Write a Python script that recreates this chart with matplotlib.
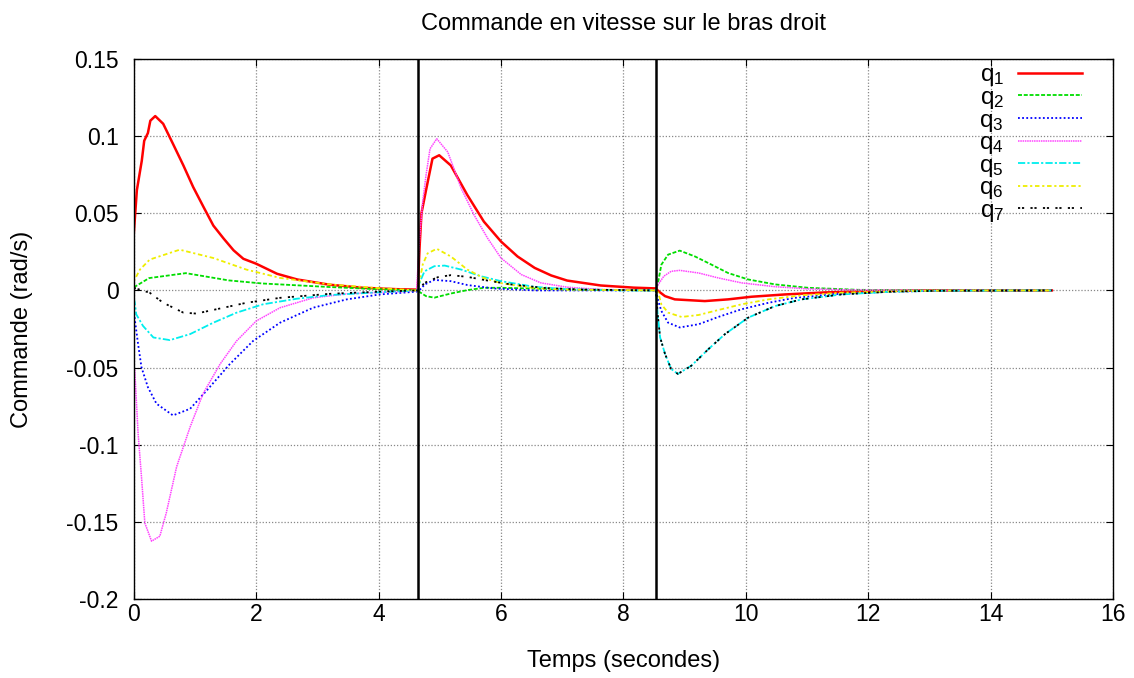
import matplotlib
matplotlib.use("Agg")
import matplotlib.pyplot as plt

plt.rcParams['font.family'] = ['Liberation Sans', 'DejaVu Sans']

# (temps, commande)
q1 = [(0, 0.037), (0.05, 0.065), (0.13, 0.084), (0.17, 0.097), (0.23, 0.102), (0.27, 0.110),
      (0.35, 0.113), (0.48, 0.108), (0.64, 0.095), (0.81, 0.081), (0.97, 0.067), (1.14, 0.054),
      (1.3, 0.042), (1.47, 0.0335), (1.63, 0.026), (1.79, 0.0205), (2.0, 0.0173), (2.34, 0.0108),
      (2.67, 0.0071), (3.2, 0.0037), (3.75, 0.0017), (4.3, 0.0008), (4.64, 0.0005),
      (4.67, 0.0285), (4.70, 0.05), (4.775, 0.065), (4.83, 0.0757), (4.88, 0.0854), (4.99, 0.0876),
      (5.18, 0.081), (5.45, 0.0618), (5.72, 0.0446), (6.0, 0.0317), (6.27, 0.022), (6.55, 0.0146),
      (6.82, 0.0097), (7.08, 0.0064), (7.63, 0.0032), (8.17, 0.0018), (8.53, 0.0013),
      (8.57, -0.0004), (8.68, -0.0037), (8.84, -0.0058), (9.33, -0.0069), (9.71, -0.0058),
      (10.09, -0.0041), (10.64, -0.0026), (11.29, -0.0013), (12.1, -0.0004), (13.0, 0.0), (15.0, 0.0)]

q2 = [(0, 0.002), (0.25, 0.008), (0.85, 0.0112), (1.55, 0.0065), (2.1, 0.0045), (3.2, 0.0022),
      (4.0, 0.0008), (4.64, 0.0),
      (4.68, -0.0013), (4.775, -0.0037), (4.91, -0.0047), (5.18, -0.002), (5.45, 0.0002),
      (5.72, 0.0017), (6.0, 0.0017), (6.55, 0.0012), (7.08, 0.0006), (8.53, 0.0),
      (8.57, 0.006), (8.62, 0.0167), (8.73, 0.0232), (8.92, 0.0258), (9.17, 0.022), (9.44, 0.0167),
      (9.71, 0.0113), (10.04, 0.0071), (10.48, 0.0039), (11.02, 0.0017), (11.83, 0.0004),
      (13.2, 0.0), (15.0, 0.0)]

q3 = [(0, -0.012), (0.016, -0.0187), (0.07, -0.0348), (0.125, -0.0498), (0.23, -0.0627),
      (0.37, -0.0734), (0.64, -0.081), (0.92, -0.0767), (1.19, -0.0649), (1.57, -0.0477),
      (1.95, -0.0327), (2.39, -0.0209), (2.93, -0.0112), (3.48, -0.0058), (4.02, -0.0026),
      (4.62, -0.0008),
      (4.68, 0.0007), (4.755, 0.0039), (4.91, 0.0068), (5.18, 0.006), (5.45, 0.0035),
      (5.88, 0.0013), (6.55, 0.0), (8.53, 0.0),
      (8.57, -0.0069), (8.62, -0.0133), (8.73, -0.0209), (8.92, -0.024), (9.23, -0.0219),
      (9.55, -0.0172), (9.93, -0.0122), (10.37, -0.008), (10.8, -0.0048), (11.45, -0.0024),
      (12.37, -0.0008), (13.5, 0.0), (15.0, 0.0)]

q4 = [(0, -0.05), (0.016, -0.052), (0.07, -0.0927), (0.125, -0.1207), (0.18, -0.1507),
      (0.29, -0.1625), (0.425, -0.1593), (0.53, -0.1443), (0.70, -0.1142), (0.92, -0.0885),
      (1.13, -0.067), (1.41, -0.0477), (1.68, -0.0327), (2.0, -0.0198), (2.39, -0.0112),
      (2.93, -0.0048), (3.48, -0.0022), (4.62, -0.0003),
      (4.67, 0.0339), (4.72, 0.0575), (4.775, 0.0747), (4.84, 0.0918), (4.95, 0.0983),
      (5.13, 0.0897), (5.35, 0.0661), (5.56, 0.0489), (5.78, 0.0339), (6.0, 0.021),
      (6.33, 0.0103), (6.65, 0.0049), (7.08, 0.0021), (7.63, 0.0006), (8.53, 0.0),
      (8.57, 0.0039), (8.66, 0.0092), (8.78, 0.0124), (8.92, 0.013), (9.23, 0.0113),
      (9.55, 0.0081), (9.93, 0.0049), (10.48, 0.0024), (11.02, 0.001), (11.83, 0.0003),
      (13.0, 0.0), (15.0, 0.0)]

q5 = [(0, -0.005), (0.016, -0.008), (0.04, -0.0155), (0.15, -0.023), (0.32, -0.0305),
      (0.59, -0.0322), (0.92, -0.0283), (1.30, -0.0209), (1.68, -0.0144), (2.11, -0.009),
      (2.66, -0.0054), (3.2, -0.003), (4.0, -0.0012), (4.64, 0.0),
      (4.68, 0.006), (4.75, 0.0124), (4.91, 0.0157), (5.08, 0.0161), (5.35, 0.0135),
      (5.67, 0.0092), (6.0, 0.006), (6.55, 0.0023), (7.08, 0.0008), (8.0, 0.0), (8.53, 0.0),
      (8.56, -0.0155), (8.6, -0.0305), (8.68, -0.0412), (8.78, -0.0509), (8.89, -0.0541),
      (9.11, -0.0488), (9.39, -0.038), (9.66, -0.0283), (10.04, -0.0176), (10.48, -0.0101),
      (10.91, -0.0058), (11.56, -0.0026), (12.37, -0.0008), (13.18, -0.0002), (15.0, 0.0)]

q6 = [(0, 0.006), (0.1, 0.0135), (0.26, 0.02), (0.75, 0.0264), (1.30, 0.021), (1.84, 0.0135),
      (2.39, 0.0081), (3.2, 0.0039), (4.0, 0.0015), (4.64, 0.0),
      (4.68, 0.008), (4.72, 0.0167), (4.8, 0.024), (4.95, 0.027), (5.18, 0.022), (5.45, 0.0135),
      (5.72, 0.008), (6.0, 0.0047), (6.55, 0.0015), (7.08, 0.0005), (8.53, 0.0),
      (8.57, -0.0015), (8.62, -0.009), (8.73, -0.0144), (8.95, -0.0172), (9.23, -0.0159),
      (9.55, -0.0127), (9.93, -0.009), (10.37, -0.0058), (10.91, -0.0032), (11.56, -0.0015),
      (12.64, -0.0004), (13.5, 0.0), (15.0, 0.0)]

q7 = [(0, 0.0017), (0.26, -0.0015), (0.48, -0.008), (0.81, -0.0144), (1.02, -0.015),
      (1.35, -0.0122), (1.84, -0.008), (2.39, -0.0048), (3.2, -0.0022), (4.0, -0.0008),
      (4.64, 0.0),
      (4.68, 0.0017), (4.75, 0.0049), (4.97, 0.0086), (5.18, 0.0099), (5.45, 0.0088),
      (5.78, 0.0064), (6.16, 0.0039), (6.71, 0.0016), (7.36, 0.0005), (8.53, 0.0),
      (8.56, -0.0155), (8.6, -0.0305), (8.68, -0.0412), (8.78, -0.0509), (8.89, -0.0541),
      (9.11, -0.0488), (9.39, -0.038), (9.66, -0.0283), (10.04, -0.0176), (10.48, -0.0101),
      (10.91, -0.0058), (11.56, -0.0026), (12.37, -0.0008), (13.18, -0.0002), (15.0, 0.0)]

switch_times = [4.64, 8.53]

series = [q1, q2, q3, q4, q5, q6, q7]
labels = ['$\\mathregular{q_1}$', '$\\mathregular{q_2}$', '$\\mathregular{q_3}$', '$\\mathregular{q_4}$',
          '$\\mathregular{q_5}$', '$\\mathregular{q_6}$', '$\\mathregular{q_7}$']
colors = ['#ff0000', '#00dd00', '#0000ff', '#ff44ff', '#00eeee', '#eeee00', '#000000']
dashes = [None, (2.2, 1.0), (1.0, 1.3), (1.0, 0.5), (4.0, 1.2, 1.2, 1.2), (1.2, 1.5, 2.5, 1.5),
          (1.2, 1.0, 1.2, 3.5)]
widths = [1.8, 1.3, 1.3, 1.1, 1.3, 1.3, 1.3]

fig = plt.figure(figsize=(11.34, 6.78), dpi=100)
ax = fig.add_axes([0.118, 0.1165, 0.8635, 0.7965])

for data, lab, c, d, w in zip(series, labels, colors, dashes, widths):
    t = [p[0] for p in data]
    v = [p[1] for p in data]
    line, = ax.plot(t, v, color=c, lw=w, label=lab)
    if d is not None:
        line.set_dashes(d)

for ts in switch_times:
    ax.axvline(ts, color='black', lw=1.8)

ax.set_xlim(0, 16)
ax.set_ylim(-0.2, 0.15)
ax.set_xticks(range(0, 17, 2))
ax.set_yticks([-0.2, -0.15, -0.1, -0.05, 0, 0.05, 0.1, 0.15])
ax.set_yticklabels(['-0.2', '-0.15', '-0.1', '-0.05', '0', '0.05', '0.1', '0.15'])
ax.grid(True, color='#888888', ls=(0, (1, 1.5)), lw=0.9)
ax.tick_params(direction='in', top=True, right=True, labelsize=16.5, length=5)
ax.tick_params(axis='y', pad=11)
ax.tick_params(axis='x', pad=3)
for s in ax.spines.values():
    s.set_linewidth(1.0)

ax.set_title('Commande en vitesse sur le bras droit', fontsize=17, pad=21)
ax.set_xlabel('Temps (secondes)', fontsize=17, labelpad=17)
ax.set_ylabel('Commande (rad/s)', fontsize=17, labelpad=24)

ax.legend(loc='upper right', frameon=False, markerfirst=False, fontsize=17.5,
          handlelength=2.6, labelspacing=-0.06, borderaxespad=0, borderpad=0,
          handletextpad=0.6, bbox_to_anchor=(0.968, 0.99))

fig.savefig('out.png', dpi=100)
